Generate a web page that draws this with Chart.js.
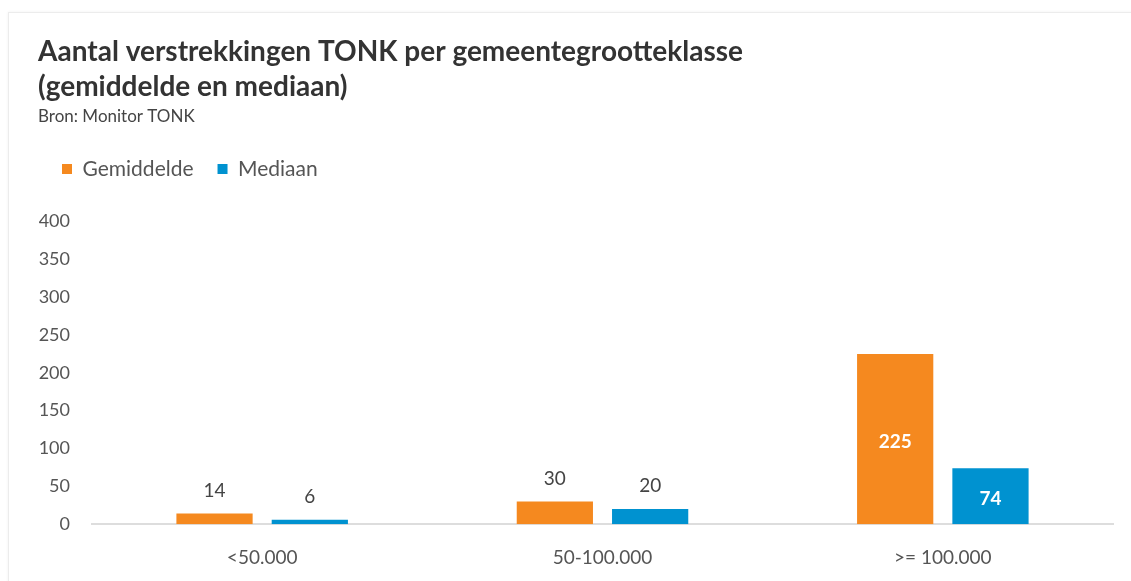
<!DOCTYPE html>
<html>
<head>
<meta charset="utf-8">
<script src="https://cdn.jsdelivr.net/npm/chart.js@4/dist/chart.umd.min.js"></script>
<style>
    body { margin: 0; background: #fff; overflow: hidden; }
    .card { position: absolute; left: 8px; top: 12px; width: 1140px; height: 600px; border: 1px solid #ececec; box-shadow: 0 0 3px rgba(0,0,0,0.06); }
    .wrap { position: absolute; left: 0; top: 0; width: 1131px; height: 583px; }
</style>
</head>
<body>
<div class="card"></div>
<div class="wrap"><canvas id="chartTonk"></canvas></div>
<script>
    const categories = ['<50.000', '50-100.000', '>= 100.000'];
    const gemiddelde = [14, 30, 225];
    const mediaan = [6, 20, 74];
    const yTicks = [0, 50, 100, 150, 200, 250, 300, 350, 400];

    const FONT = 'Lato, "Open Sans", sans-serif';

    // ruimte tussen legenda en grafiek
    const legendSpace = {
        id: 'legendSpace',
        beforeInit: function (chart) {
            const fit = chart.legend.fit;
            chart.legend.fit = function () {
                fit.bind(chart.legend)();
                this.height += 32;
            };
        }
    };

    // waarden boven of in de staven
    const barLabels = {
        id: 'barLabels',
        afterDatasetsDraw: function (chart) {
            const ctx = chart.ctx;
            ctx.save();
            ctx.textAlign = 'center';
            ctx.textBaseline = 'middle';
            chart.data.datasets.forEach(function (ds, i) {
                chart.getDatasetMeta(i).data.forEach(function (bar, j) {
                    const h = bar.base - bar.y;
                    if (h > 40) {
                        ctx.fillStyle = '#ffffff';
                        ctx.font = 'bold 19px ' + FONT;
                        ctx.fillText(ds.data[j], bar.x, (bar.y + bar.base) / 2 + 3);
                    } else {
                        ctx.fillStyle = '#444444';
                        ctx.font = '19px ' + FONT;
                        ctx.fillText(ds.data[j], bar.x, bar.y - 23);
                    }
                });
            });
            ctx.restore();
        }
    };

    const ctx = document.getElementById('chartTonk');
    const config = {
        type: 'bar',
        data: {
            labels: categories,
            datasets: [{
                label: 'Gemiddelde',
                data: gemiddelde,
                backgroundColor: 'rgb(245,137,31)',
                categoryPercentage: 0.56,
                barPercentage: 0.8
            }, {
                label: 'Mediaan',
                data: mediaan,
                backgroundColor: 'rgb(0,146,208)',
                categoryPercentage: 0.56,
                barPercentage: 0.8
            }]
        },
        options: {
            responsive: true,
            maintainAspectRatio: false,
            animation: false,
            layout: {
                padding: {left: 38, right: 18, top: 34, bottom: 0}
            },
            plugins: {
                title: {
                    display: true,
                    align: 'start',
                    text: ['Aantal verstrekkingen TONK per gemeentegrootteklasse', '(gemiddelde en mediaan)'],
                    color: '#333333',
                    font: {family: FONT, size: 28, weight: 'bold', lineHeight: 1.25},
                    padding: {top: 0, bottom: 2}
                },
                subtitle: {
                    display: true,
                    align: 'start',
                    text: 'Bron: Monitor TONK',
                    color: '#444444',
                    font: {family: FONT, size: 17, lineHeight: 1.2},
                    padding: {top: 0, bottom: 8}
                },
                legend: {
                    align: 'start',
                    labels: {
                        boxWidth: 10,
                        boxHeight: 10,
                        padding: 24,
                        color: '#555555',
                        font: {family: FONT, size: 21}
                    }
                },
                tooltip: {enabled: false}
            },
            scales: {
                x: {
                    grid: {display: false},
                    border: {display: true, color: '#dddddd', width: 2},
                    ticks: {color: '#555555', padding: 14, font: {family: FONT, size: 19}}
                },
                y: {
                    min: 0,
                    max: 400,
                    afterBuildTicks: function (axis) {
                        axis.ticks = yTicks.map(function (v) { return {value: v}; });
                    },
                    afterFit: function (axis) { axis.width = 54; },
                    grid: {display: false, drawTicks: false},
                    border: {display: false},
                    ticks: {color: '#555555', padding: 22, font: {family: FONT, size: 18}}
                }
            }
        },
        plugins: [legendSpace, barLabels]
    };
    const myChart = new Chart(ctx, config);
</script>
</body>
</html>
